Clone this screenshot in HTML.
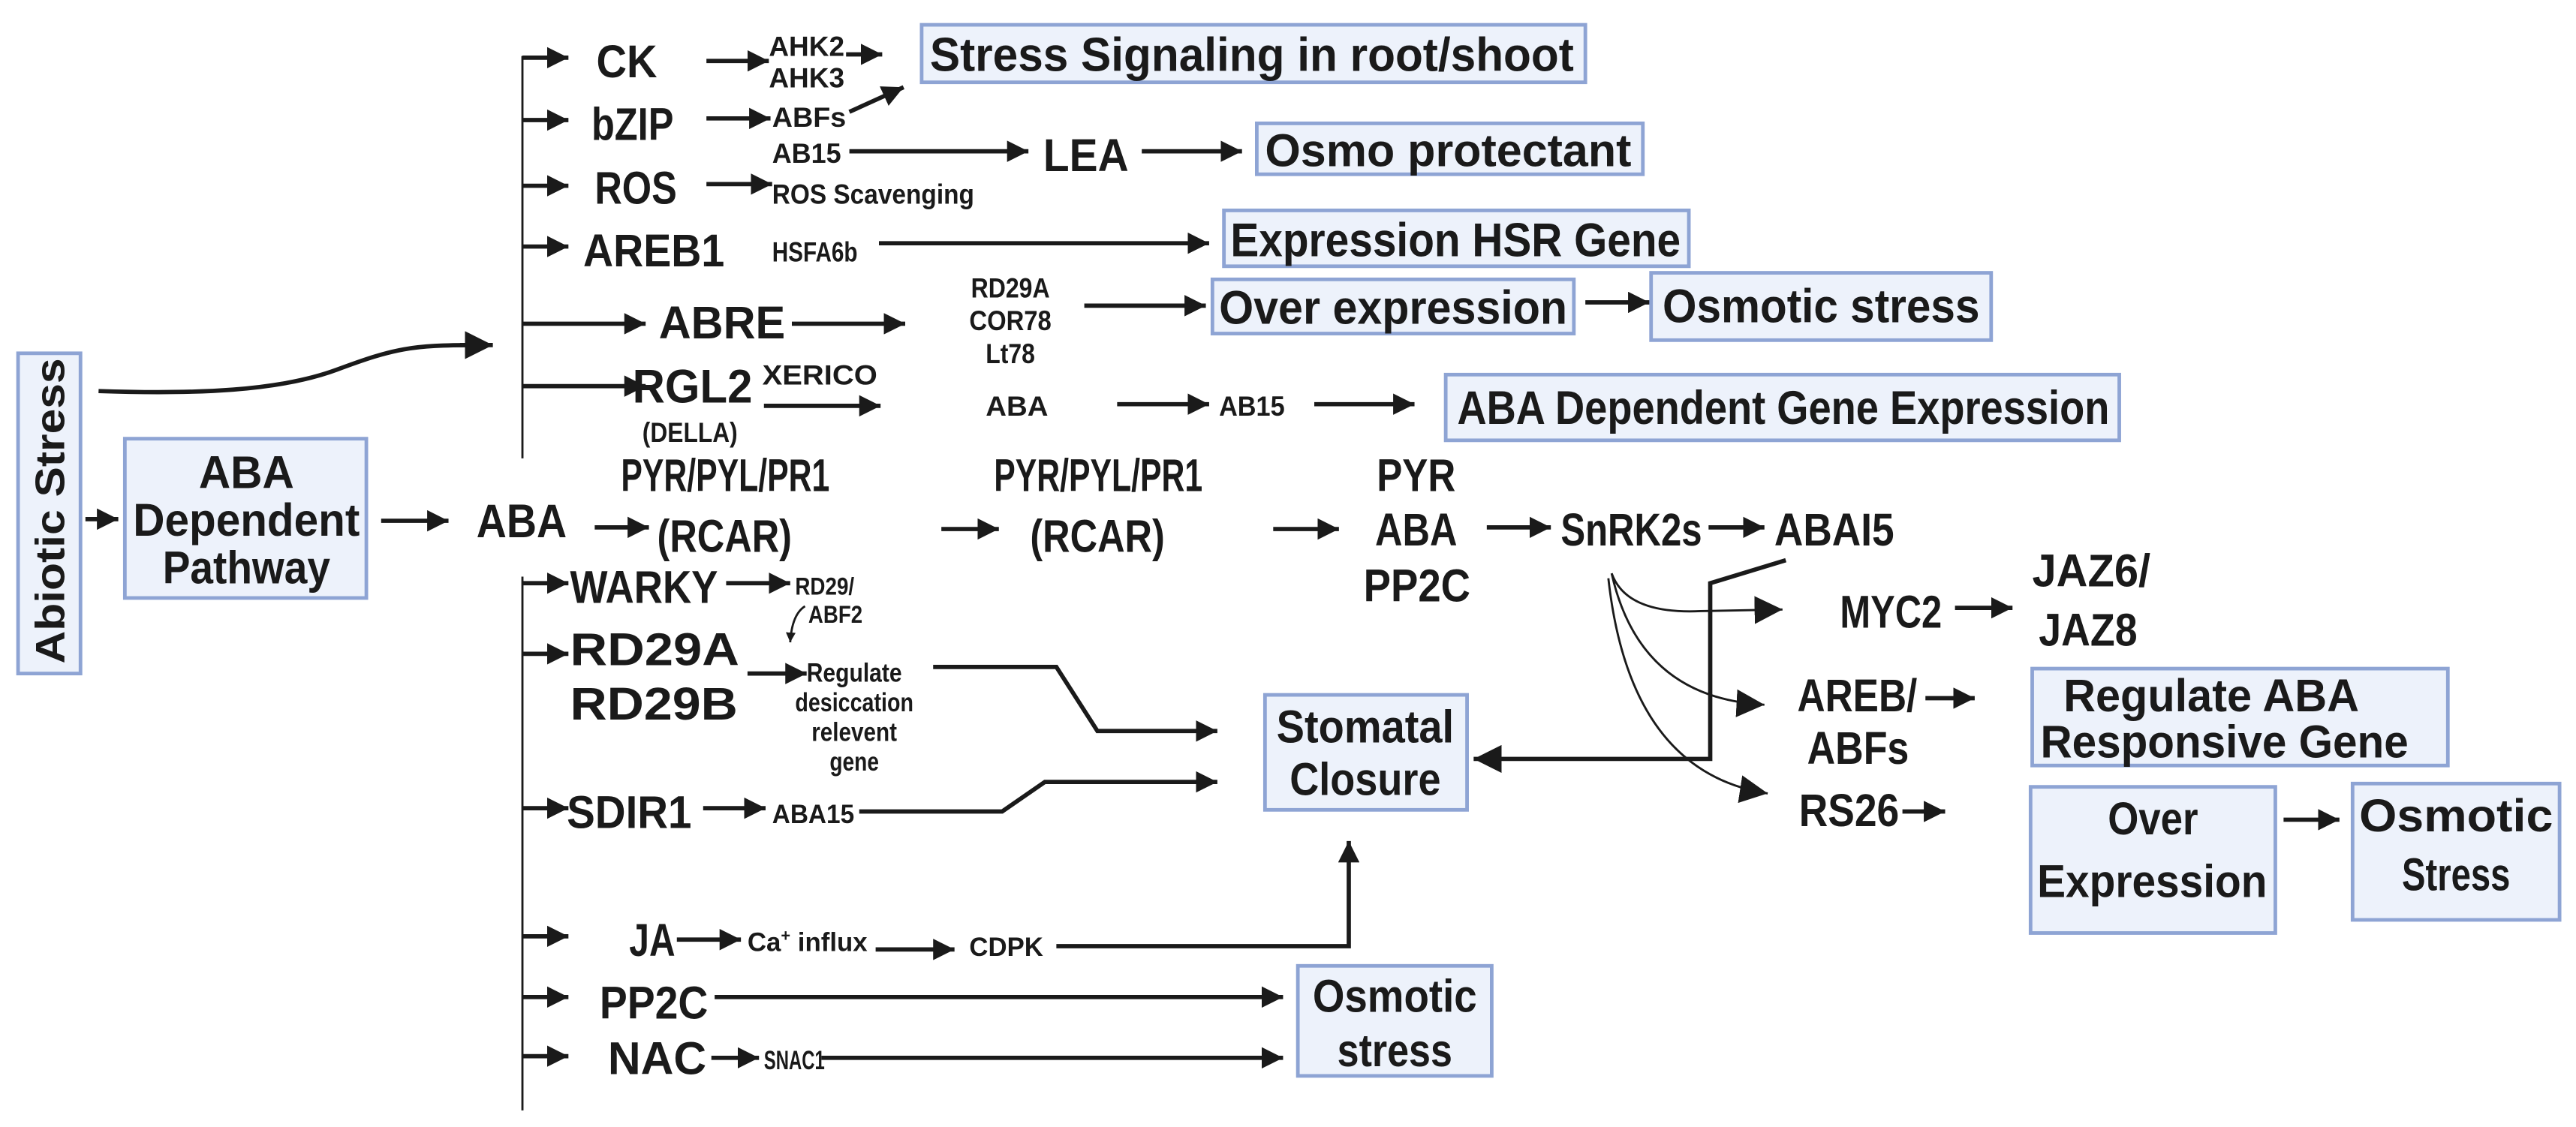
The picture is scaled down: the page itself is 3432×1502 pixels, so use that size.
<!DOCTYPE html>
<html><head><meta charset="utf-8"><style>
html,body{margin:0;padding:0;background:#fff;}
svg{display:block;}
text{font-family:"Liberation Sans Narrow","Liberation Sans",sans-serif;font-weight:bold;fill:#1a1a1a;}
.b{fill:#edf2fb;stroke:#8ea4d4;stroke-width:2.2;}
.l{stroke:#1a1a1a;stroke-width:2.6;fill:none;}
.t{stroke:#1a1a1a;stroke-width:1.3;fill:none;}
</style></head><body>
<svg width="3432" height="1502" viewBox="0 0 1568 686" xmlns="http://www.w3.org/2000/svg">
<defs>
<marker id="a" viewBox="0 0 10 10" refX="10" refY="5" markerWidth="13" markerHeight="13" markerUnits="userSpaceOnUse" orient="auto"><path d="M0,0L10,5L0,10z" fill="#1a1a1a"/></marker>
<marker id="s" viewBox="0 0 10 10" refX="10" refY="5" markerWidth="6" markerHeight="6" markerUnits="userSpaceOnUse" orient="auto"><path d="M0,0L10,5L0,10z" fill="#1a1a1a"/></marker>
<marker id="g" viewBox="0 0 10 10" refX="10" refY="5" markerWidth="17" markerHeight="17" markerUnits="userSpaceOnUse" orient="auto"><path d="M0,0L10,5L0,10z" fill="#1a1a1a"/></marker>
</defs>

<!-- Abiotic stress -->
<rect class="b" x="11" y="215" width="38" height="195"/>
<text transform="translate(39,404) rotate(-90)" font-size="25" textLength="186" lengthAdjust="spacingAndGlyphs" style="font-family:'Liberation Sans',sans-serif">Abiotic Stress</text>
<line class="l" x1="52" y1="316" x2="72" y2="316" marker-end="url(#a)"/>
<rect class="b" x="76" y="267" width="147" height="97"/>
<text x="121" y="297" font-size="28" textLength="58" lengthAdjust="spacingAndGlyphs">ABA</text>
<text x="81" y="326" font-size="28" textLength="138" lengthAdjust="spacingAndGlyphs">Dependent</text>
<text x="99" y="355" font-size="28" textLength="102" lengthAdjust="spacingAndGlyphs">Pathway</text>
<line class="l" x1="232" y1="317" x2="273" y2="317" marker-end="url(#a)"/>
<text x="290" y="327" font-size="29" textLength="55" lengthAdjust="spacingAndGlyphs">ABA</text>
<line class="l" x1="362" y1="321" x2="395" y2="321" marker-end="url(#a)"/>
<text x="378" y="299" font-size="28" textLength="127" lengthAdjust="spacingAndGlyphs">PYR/PYL/PR1</text>
<text x="400" y="336" font-size="28" textLength="82" lengthAdjust="spacingAndGlyphs">(RCAR)</text>
<line class="l" x1="573" y1="322" x2="608" y2="322" marker-end="url(#a)"/>
<text x="605" y="299" font-size="28" textLength="127" lengthAdjust="spacingAndGlyphs">PYR/PYL/PR1</text>
<text x="627" y="336" font-size="28" textLength="82" lengthAdjust="spacingAndGlyphs">(RCAR)</text>
<line class="l" x1="775" y1="322" x2="815" y2="322" marker-end="url(#a)"/>
<text x="838" y="299" font-size="28" textLength="48" lengthAdjust="spacingAndGlyphs">PYR</text>
<text x="837" y="332" font-size="28" textLength="50" lengthAdjust="spacingAndGlyphs">ABA</text>
<text x="830" y="366" font-size="28" textLength="65" lengthAdjust="spacingAndGlyphs">PP2C</text>
<line class="l" x1="905" y1="321" x2="944" y2="321" marker-end="url(#a)"/>
<text x="950" y="332" font-size="28" textLength="86" lengthAdjust="spacingAndGlyphs">SnRK2s</text>
<line class="l" x1="1040" y1="321" x2="1074" y2="321" marker-end="url(#a)"/>
<text x="1080" y="332" font-size="28" textLength="73" lengthAdjust="spacingAndGlyphs">ABAI5</text>

<!-- SnRK2s curves -->
<path class="t" d="M981,349 Q990,374 1035,372 L1085,371" marker-end="url(#g)"/>
<path class="t" d="M981,349 Q998,425 1074,429" marker-end="url(#g)"/>
<path class="t" d="M979,352 Q992,470 1076,483" marker-end="url(#g)"/>
<polyline class="l" points="1087,341 1041,355 1041,462 897,462" marker-end="url(#g)"/>

<text x="1120" y="382" font-size="28" textLength="62" lengthAdjust="spacingAndGlyphs">MYC2</text>
<line class="l" x1="1190" y1="370" x2="1225" y2="370" marker-end="url(#a)"/>
<text x="1237" y="357" font-size="28" textLength="72" lengthAdjust="spacingAndGlyphs">JAZ6/</text>
<text x="1241" y="393" font-size="28" textLength="60" lengthAdjust="spacingAndGlyphs">JAZ8</text>
<text x="1094" y="433" font-size="28" textLength="73" lengthAdjust="spacingAndGlyphs">AREB/</text>
<text x="1100" y="465" font-size="28" textLength="62" lengthAdjust="spacingAndGlyphs">ABFs</text>
<line class="l" x1="1172" y1="425" x2="1202" y2="425" marker-end="url(#a)"/>
<rect class="b" x="1237" y="407" width="253" height="59"/>
<text x="1256" y="433" font-size="28" textLength="180" lengthAdjust="spacingAndGlyphs">Regulate ABA</text>
<text x="1242" y="461" font-size="28" textLength="224" lengthAdjust="spacingAndGlyphs">Responsive Gene</text>
<text x="1095" y="503" font-size="28" textLength="61" lengthAdjust="spacingAndGlyphs">RS26</text>
<line class="l" x1="1158" y1="494" x2="1184" y2="494" marker-end="url(#a)"/>
<rect class="b" x="1236" y="479" width="149" height="89"/>
<text x="1283" y="508" font-size="28" textLength="55" lengthAdjust="spacingAndGlyphs">Over</text>
<text x="1240" y="546" font-size="28" textLength="140" lengthAdjust="spacingAndGlyphs">Expression</text>
<line class="l" x1="1390" y1="499" x2="1424" y2="499" marker-end="url(#a)"/>
<rect class="b" x="1432" y="477" width="126" height="83"/>
<text x="1436" y="506" font-size="28" textLength="118" lengthAdjust="spacingAndGlyphs">Osmotic</text>
<text x="1462" y="542" font-size="28" textLength="66" lengthAdjust="spacingAndGlyphs">Stress</text>

<!-- top branch -->
<path class="l" d="M60,238 C120,240 170,238 205,225 C240,212 250,210 290,210" />
<line class="l" x1="280" y1="210" x2="300" y2="210" marker-end="url(#g)"/>
<line class="t" x1="318" y1="34" x2="318" y2="279"/>
<g marker-end="url(#a)">
<line class="l" x1="318" y1="35" x2="346" y2="35"/>
<line class="l" x1="318" y1="73" x2="346" y2="73"/>
<line class="l" x1="318" y1="113" x2="346" y2="113"/>
<line class="l" x1="318" y1="150" x2="346" y2="150"/>
<line class="l" x1="318" y1="197" x2="393" y2="197"/>
<line class="l" x1="318" y1="235" x2="393" y2="235"/>
</g>
<text x="363" y="47" font-size="28" textLength="37" lengthAdjust="spacingAndGlyphs">CK</text>
<line class="l" x1="430" y1="37" x2="468" y2="37" marker-end="url(#a)"/>
<text x="468" y="34" font-size="17" textLength="46" lengthAdjust="spacingAndGlyphs">AHK2</text>
<text x="468" y="53" font-size="17" textLength="46" lengthAdjust="spacingAndGlyphs">AHK3</text>
<line class="l" x1="515" y1="33" x2="537" y2="33" marker-end="url(#a)"/>
<line class="l" x1="517" y1="68" x2="550" y2="53" marker-end="url(#a)"/>
<rect class="b" x="561" y="15" width="404" height="35"/>
<text x="566" y="43" font-size="29" textLength="392" lengthAdjust="spacingAndGlyphs">Stress Signaling in root/shoot</text>

<text x="360" y="85" font-size="28" textLength="50" lengthAdjust="spacingAndGlyphs">bZIP</text>
<line class="l" x1="430" y1="72" x2="469" y2="72" marker-end="url(#a)"/>
<text x="470" y="77" font-size="17" textLength="45" lengthAdjust="spacingAndGlyphs">ABFs</text>
<text x="470" y="99" font-size="17" textLength="42" lengthAdjust="spacingAndGlyphs">AB15</text>
<line class="l" x1="517" y1="92" x2="626" y2="92" marker-end="url(#a)"/>
<text x="635" y="104" font-size="28" textLength="52" lengthAdjust="spacingAndGlyphs">LEA</text>
<line class="l" x1="695" y1="92" x2="756" y2="92" marker-end="url(#a)"/>
<rect class="b" x="765" y="75" width="235" height="31"/>
<text x="770" y="101" font-size="28" textLength="223" lengthAdjust="spacingAndGlyphs">Osmo protectant</text>

<text x="362" y="124" font-size="28" textLength="50" lengthAdjust="spacingAndGlyphs">ROS</text>
<line class="l" x1="430" y1="112" x2="470" y2="112" marker-end="url(#a)"/>
<text x="470" y="124" font-size="17" textLength="123" lengthAdjust="spacingAndGlyphs">ROS Scavenging</text>

<text x="355" y="162" font-size="28" textLength="86" lengthAdjust="spacingAndGlyphs">AREB1</text>
<text x="470" y="159" font-size="17" textLength="52" lengthAdjust="spacingAndGlyphs">HSFA6b</text>
<line class="l" x1="535" y1="148" x2="736" y2="148" marker-end="url(#a)"/>
<rect class="b" x="745" y="128" width="283" height="34"/>
<text x="749" y="156" font-size="29" textLength="274" lengthAdjust="spacingAndGlyphs">Expression HSR Gene</text>

<text x="401" y="206" font-size="28" textLength="77" lengthAdjust="spacingAndGlyphs">ABRE</text>
<line class="l" x1="482" y1="197" x2="551" y2="197" marker-end="url(#a)"/>
<text x="591" y="181" font-size="17" textLength="48" lengthAdjust="spacingAndGlyphs">RD29A</text>
<text x="590" y="201" font-size="17" textLength="50" lengthAdjust="spacingAndGlyphs">COR78</text>
<text x="600" y="221" font-size="17" textLength="30" lengthAdjust="spacingAndGlyphs">Lt78</text>
<line class="l" x1="660" y1="186" x2="734" y2="186" marker-end="url(#a)"/>
<rect class="b" x="738" y="170" width="220" height="33"/>
<text x="742" y="197" font-size="29" textLength="212" lengthAdjust="spacingAndGlyphs">Over expression</text>
<line class="l" x1="965" y1="184" x2="1004" y2="184" marker-end="url(#a)"/>
<rect class="b" x="1005" y="166" width="207" height="41"/>
<text x="1012" y="196" font-size="29" textLength="193" lengthAdjust="spacingAndGlyphs">Osmotic stress</text>

<text x="385" y="245" font-size="29" textLength="73" lengthAdjust="spacingAndGlyphs">RGL2</text>
<text x="391" y="269" font-size="17" textLength="58" lengthAdjust="spacingAndGlyphs">(DELLA)</text>
<text x="464" y="234" font-size="17" textLength="70" lengthAdjust="spacingAndGlyphs">XERICO</text>
<line class="l" x1="465" y1="247" x2="536" y2="247" marker-end="url(#a)"/>
<text x="600" y="253" font-size="17" textLength="38" lengthAdjust="spacingAndGlyphs">ABA</text>
<line class="l" x1="680" y1="246" x2="736" y2="246" marker-end="url(#a)"/>
<text x="742" y="253" font-size="17" textLength="40" lengthAdjust="spacingAndGlyphs">AB15</text>
<line class="l" x1="800" y1="246" x2="861" y2="246" marker-end="url(#a)"/>
<rect class="b" x="880" y="228" width="410" height="40"/>
<text x="887" y="258" font-size="29" textLength="397" lengthAdjust="spacingAndGlyphs">ABA Dependent Gene Expression</text>

<!-- bottom branch -->
<line class="t" x1="318" y1="351" x2="318" y2="676"/>
<g marker-end="url(#a)">
<line class="l" x1="318" y1="355" x2="346" y2="355"/>
<line class="l" x1="318" y1="398" x2="346" y2="398"/>
<line class="l" x1="318" y1="492" x2="346" y2="492"/>
<line class="l" x1="318" y1="570" x2="346" y2="570"/>
<line class="l" x1="318" y1="607" x2="346" y2="607"/>
<line class="l" x1="318" y1="643" x2="346" y2="643"/>
</g>
<text x="347" y="367" font-size="28" textLength="90" lengthAdjust="spacingAndGlyphs">WARKY</text>
<line class="l" x1="442" y1="355" x2="481" y2="355" marker-end="url(#a)"/>
<text x="484" y="362" font-size="15" textLength="36" lengthAdjust="spacingAndGlyphs">RD29/</text>
<text x="492" y="379" font-size="15" textLength="33" lengthAdjust="spacingAndGlyphs">ABF2</text>
<path class="t" d="M490,369 Q482,374 481,391" marker-end="url(#s)"/>
<text x="347" y="405" font-size="28" textLength="103" lengthAdjust="spacingAndGlyphs">RD29A</text>
<text x="347" y="438" font-size="28" textLength="102" lengthAdjust="spacingAndGlyphs">RD29B</text>
<line class="l" x1="455" y1="410" x2="491" y2="410" marker-end="url(#a)"/>
<text x="491" y="415" font-size="16" textLength="58" lengthAdjust="spacingAndGlyphs">Regulate</text>
<text x="484" y="433" font-size="16" textLength="72" lengthAdjust="spacingAndGlyphs">desiccation</text>
<text x="494" y="451" font-size="16" textLength="52" lengthAdjust="spacingAndGlyphs">relevent</text>
<text x="505" y="469" font-size="16" textLength="30" lengthAdjust="spacingAndGlyphs">gene</text>
<polyline class="l" points="568,406 643,406 668,445 741,445" marker-end="url(#a)"/>
<rect class="b" x="770" y="423" width="123" height="70"/>
<text x="777" y="452" font-size="28" textLength="108" lengthAdjust="spacingAndGlyphs">Stomatal</text>
<text x="785" y="484" font-size="28" textLength="92" lengthAdjust="spacingAndGlyphs">Closure</text>
<text x="345" y="504" font-size="28" textLength="76" lengthAdjust="spacingAndGlyphs">SDIR1</text>
<line class="l" x1="428" y1="492" x2="466" y2="492" marker-end="url(#a)"/>
<text x="470" y="501" font-size="16" textLength="50" lengthAdjust="spacingAndGlyphs">ABA15</text>
<polyline class="l" points="523,494 610,494 636,476 741,476" marker-end="url(#a)"/>

<text x="383" y="582" font-size="28" textLength="28" lengthAdjust="spacingAndGlyphs">JA</text>
<line class="l" x1="412" y1="572" x2="451" y2="572" marker-end="url(#a)"/>
<text x="455" y="579" font-size="16" textLength="73" lengthAdjust="spacingAndGlyphs">Ca<tspan font-size="10" dy="-6">+</tspan><tspan dy="6"> influx</tspan></text>
<line class="l" x1="533" y1="578" x2="581" y2="578" marker-end="url(#a)"/>
<text x="590" y="582" font-size="16" textLength="45" lengthAdjust="spacingAndGlyphs">CDPK</text>
<polyline class="l" points="643,576 821,576 821,512" marker-end="url(#a)"/>

<text x="365" y="620" font-size="28" textLength="66" lengthAdjust="spacingAndGlyphs">PP2C</text>
<line class="l" x1="435" y1="607" x2="781" y2="607" marker-end="url(#a)"/>
<rect class="b" x="790" y="588" width="118" height="67"/>
<text x="799" y="616" font-size="28" textLength="100" lengthAdjust="spacingAndGlyphs">Osmotic</text>
<text x="814" y="649" font-size="28" textLength="70" lengthAdjust="spacingAndGlyphs">stress</text>
<text x="370" y="654" font-size="28" textLength="60" lengthAdjust="spacingAndGlyphs">NAC</text>
<line class="l" x1="433" y1="644" x2="462" y2="644" marker-end="url(#a)"/>
<text x="465" y="651" font-size="16" textLength="37" lengthAdjust="spacingAndGlyphs">SNAC1</text>
<line class="l" x1="500" y1="644" x2="781" y2="644" marker-end="url(#a)"/>
</svg>
</body></html>
